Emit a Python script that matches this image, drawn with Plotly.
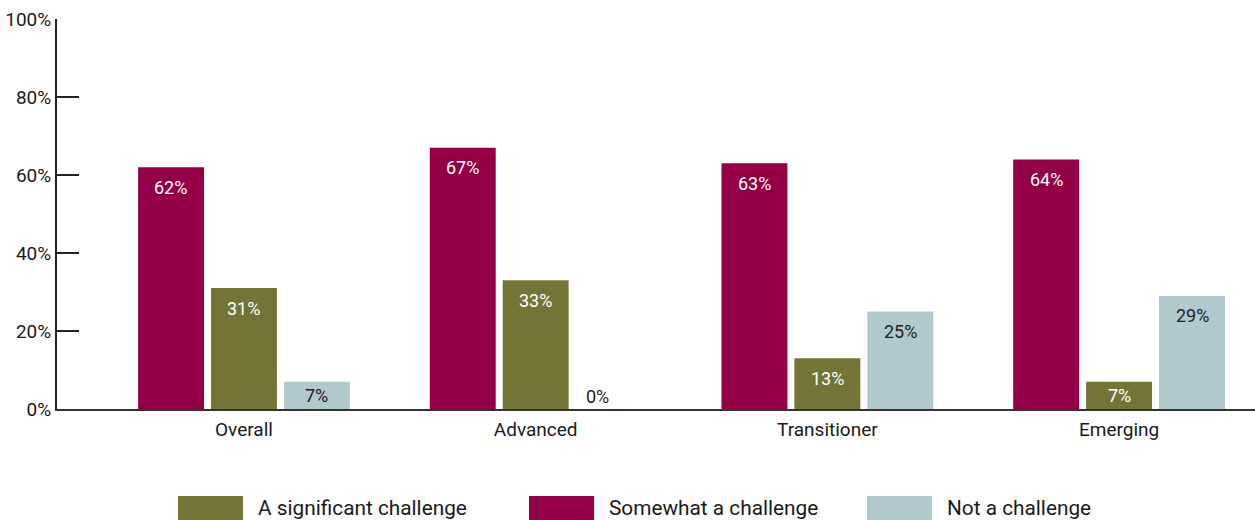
import plotly.graph_objects as go

categories = ["Overall", "Advanced", "Transitioner", "Emerging"]
series_names = ["A significant challenge", "Somewhat a challenge", "Not a challenge"]
significant = [31, 33, 13, 7]
somewhat = [62, 67, 63, 64]
not_challenge = [7, 0, 25, 29]
y_ticks = [0, 20, 40, 60, 80, 100]
y_tick_labels = [f"{v}%" for v in y_ticks]

# styles
COLORS = {"A significant challenge": "#747437",
          "Somewhat a challenge": "#930045",
          "Not a challenge": "#b1c8cc"}
TEXT_COLORS = {"A significant challenge": "white",
               "Somewhat a challenge": "white",
               "Not a challenge": "#222222"}
FONT = "Roboto, Arial, sans-serif"

values = {"A significant challenge": significant,
          "Somewhat a challenge": somewhat,
          "Not a challenge": not_challenge}
bar_order = ["Somewhat a challenge", "A significant challenge", "Not a challenge"]
BAR_STEP_PX = 73  # distance between bar centres inside a group

fig = go.Figure()
annotations = []
for j, name in enumerate(bar_order):
    vals = values[name]
    fig.add_trace(go.Bar(
        x=categories, y=vals, name=name,
        marker=dict(color=COLORS[name], line=dict(width=0)),
        showlegend=False, hoverinfo="x+y+name",
    ))
    for cat, v in zip(categories, vals):
        label = f"{v}%"
        xs = (j - 1) * BAR_STEP_PX
        if v == 0:
            ann = dict(y=0, yanchor="bottom", yshift=0)
            xs -= 11
        elif v < 10:
            ann = dict(y=v / 2, yanchor="middle", yshift=0)
        else:
            ann = dict(y=v, yanchor="middle", yshift=-20)
        annotations.append(dict(
            x=cat, xref="x", yref="y", text=label, showarrow=False,
            xshift=xs,
            font=dict(family=FONT, size=18,
                      color=TEXT_COLORS[name] if v > 0 else "#222222"),
            **ann))

# custom legend (large swatches) in paper coordinates
LEG_SWATCH_X0 = [0.101, 0.394, 0.6761]
LEG_SWATCH_W = 0.0543
LEG_Y0, LEG_Y1 = -0.2231, -0.32
LEG_TEXT_Y = -0.2538
shapes = []
for name, x0 in zip(series_names, LEG_SWATCH_X0):
    shapes.append(dict(type="rect", xref="paper", yref="paper",
                       x0=x0, x1=x0 + LEG_SWATCH_W, y0=LEG_Y1, y1=LEG_Y0,
                       fillcolor=COLORS[name], line=dict(width=0)))
    annotations.append(dict(x=x0 + LEG_SWATCH_W + 0.0108, y=LEG_TEXT_Y,
                            xref="paper", yref="paper", xanchor="left",
                            yanchor="middle", showarrow=False, text=name,
                            font=dict(family=FONT, size=20.8, color="#1a1a1a")))

fig.update_layout(
    width=1255, height=520,
    margin=dict(l=57, r=0, t=19, b=111),
    paper_bgcolor="white", plot_bgcolor="white",
    barmode="group", bargap=0.25, bargroupgap=0.096,
    font=dict(family=FONT, color="#222222"),
    showlegend=False,
    annotations=annotations, shapes=shapes,
    xaxis=dict(range=[-0.641, 3.466], showline=True, linewidth=2,
               linecolor="#333333", ticks="", showgrid=False, zeroline=False,
               tickfont=dict(family=FONT, size=19, color="#1a1a1a"),
               ticklabelstandoff=2, fixedrange=True),
    yaxis=dict(range=[0, 100], tickmode="array", tickvals=y_ticks,
               ticktext=y_tick_labels, ticks="inside", ticklen=22, tickwidth=2,
               tickcolor="#222222", showline=True, linewidth=2,
               linecolor="#222222", showgrid=False, zeroline=False,
               tickfont=dict(family=FONT, size=19, color="#1a1a1a"),
               fixedrange=True),
)

fig.write_html("out.html", config={"displayModeBar": False},
               post_script="document.body.style.margin='0';document.body.style.overflow='hidden';")
